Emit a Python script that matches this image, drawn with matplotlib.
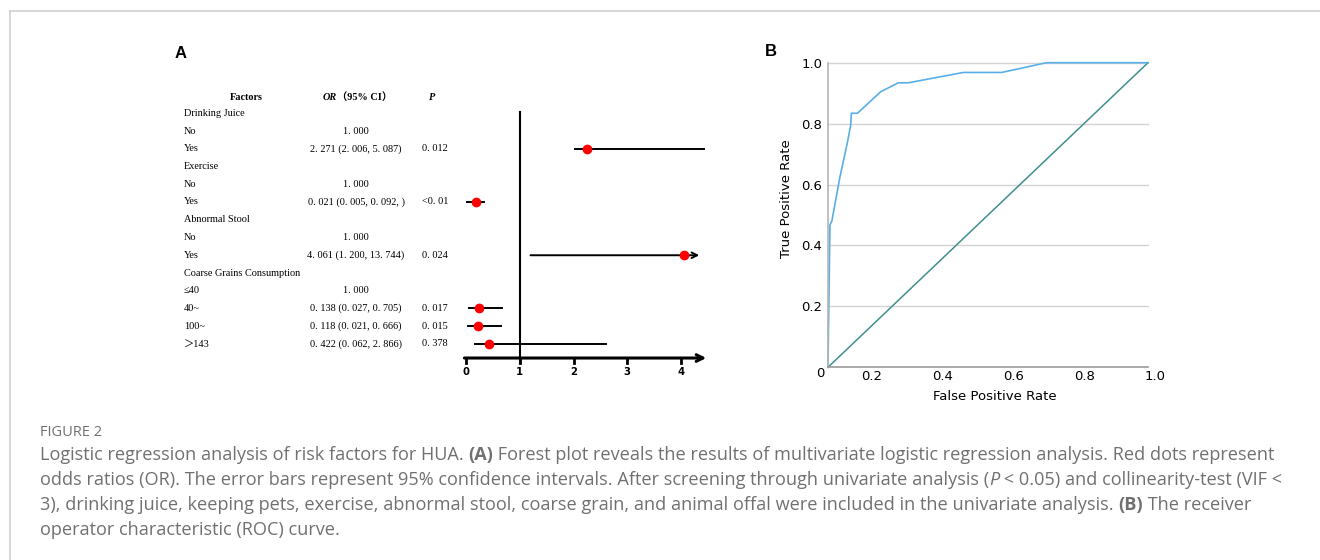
import matplotlib

matplotlib.use("Agg")
import matplotlib.pyplot as plt
import matplotlib.transforms as mtransforms
from matplotlib.lines import Line2D

# ---- panel A: table + forest plot ----
row_labels = [
    "Drinking Juice", "No", "Yes",
    "Exercise", "No", "Yes",
    "Abnormal Stool", "No", "Yes",
    "Coarse Grains Consumption", "≤40", "40~", "100~", "＞143",
]
or_text = [
    "", "1. 000", "2. 271 (2. 006, 5. 087)",
    "", "1. 000", "0. 021 (0. 005, 0. 092, )",
    "", "1. 000", "4. 061 (1. 200, 13. 744)",
    "", "1. 000", "0. 138 (0. 027, 0. 705)", "0. 118 (0. 021, 0. 666)",
    "0. 422 (0. 062, 2. 866)",
]
p_text = [
    "", "", "0. 012",
    "", "", "<0. 01",
    "", "", "0. 024",
    "", "", "0. 017", "0. 015", "0. 378",
]

# values as drawn in the forest plot
plot_rows = [3, 6, 9, 12, 13, 14]
plot_or = [2.26, 0.18, 4.05, 0.24, 0.22, 0.43]
plot_lo = [2.03, 0.01, 1.20, 0.06, 0.04, 0.17]
plot_hi = [4.43, 0.34, 4.34, 0.67, 0.65, 2.60]
plot_arrow = [False, False, True, False, False, False]
forest_ticks = [0, 1, 2, 3, 4]

# ---- panel B: ROC curve ----
roc_fpr = [0.0, 0.006, 0.012, 0.0375, 0.06, 0.071, 0.073, 0.092, 0.131,
           0.165, 0.22, 0.251, 0.423, 0.543, 0.683, 1.0]
roc_tpr = [0.0, 0.467, 0.48, 0.626, 0.735, 0.795, 0.834, 0.834, 0.872,
           0.905, 0.934, 0.934, 0.968, 0.968, 1.0, 1.0]
ref_line = [0.0, 1.0]
roc_yticks = [0.2, 0.4, 0.6, 0.8, 1.0]
roc_xtick_labels = ["0.2", "0.4", "0.6", "0.8", "1.0"]
roc_xtick_pos = [0.1375, 0.3594, 0.5813, 0.8031, 1.0219]

caption_lines = [
    [("Logistic regression analysis of risk factors for HUA. ", "normal"),
     ("(A)", "bold"),
     (" Forest plot reveals the results of multivariate logistic regression analysis. Red dots represent", "normal")],
    [("odds ratios (OR). The error bars represent 95% confidence intervals. After screening through univariate analysis (", "normal"),
     ("P", "italic"),
     (" < 0.05) and collinearity-test (VIF <", "normal")],
    [("3), drinking juice, keeping pets, exercise, abnormal stool, coarse grain, and animal offal were included in the univariate analysis. ", "normal"),
     ("(B)", "bold"),
     (" The receiver", "normal")],
    [("operator characteristic (ROC) curve.", "normal")],
]

W, H = 1320, 560
SERIF = ["Liberation Serif", "Noto Sans CJK SC", "DejaVu Serif"]
CAP_COLOR = "#707070"


def px(x, y):
    """Pixel position (from top-left) to figure fraction."""
    return x / W, 1 - y / H


def text_width(fig, s, **kw):
    renderer = fig.canvas.get_renderer()
    t1 = fig.text(0, 0, s + "|", **kw)
    t2 = fig.text(0, 0, "|", **kw)
    w = t1.get_window_extent(renderer).width - t2.get_window_extent(renderer).width
    t1.remove()
    t2.remove()
    return w


def draw_segments(fig, x, y, segments, **kw):
    for s, style in segments:
        extra = {}
        if style == "bold":
            extra["fontweight"] = "bold"
        elif style == "italic":
            extra["fontstyle"] = "italic"
        fx, fy = px(x, y)
        fig.text(fx, fy, s, ha="left", va="center", **kw, **extra)
        x += text_width(fig, s, **kw, **extra)


def main() -> None:
    fig = plt.figure(figsize=(W / 100, H / 100), dpi=100)

    # frame lines
    fig.add_artist(Line2D([10 / W, 1], [1 - 11 / H] * 2, color="#cfcfcf", lw=1.2,
                          transform=fig.transFigure))
    fig.add_artist(Line2D([10 / W] * 2, [0, 1 - 11 / H], color="#cfcfcf", lw=1.2,
                          transform=fig.transFigure))

    # ---------------- panel A ----------------
    unit = 53.75
    x0_px = 466
    xlim = (-0.2, 4.6)
    row_px = 17.75
    row0_px = 95.5
    ylim = (16.03, -2.0)
    left = x0_px + xlim[0] * unit
    right = x0_px + xlim[1] * unit
    top = row0_px + ylim[1] * row_px
    bottom = row0_px + ylim[0] * row_px
    ax = fig.add_axes([left / W, 1 - bottom / H, (right - left) / W, (bottom - top) / H])
    ax.set_xlim(*xlim)
    ax.set_ylim(*ylim)
    ax.axis("off")

    axis_row = 14.79
    ax.annotate("", xy=(4.47, axis_row), xytext=(-0.03, axis_row),
                arrowprops=dict(arrowstyle="->", lw=2.2, color="black",
                                shrinkA=0, shrinkB=0, mutation_scale=12))
    for t in forest_ticks:
        ax.plot([t, t], [axis_row, axis_row + 0.3], color="black", lw=2)
        ax.text(t, axis_row + 0.78, str(t), ha="center", va="center",
                fontsize=7.3, fontweight="bold", family="DejaVu Sans")
    ax.plot([1, 1], [0.95, 15.07], color="black", lw=1.5)

    for r, o, lo, hi, arr in zip(plot_rows, plot_or, plot_lo, plot_hi, plot_arrow):
        if arr:
            ax.annotate("", xy=(hi, r), xytext=(lo, r),
                        arrowprops=dict(arrowstyle="->", lw=1.4, color="black",
                                        shrinkA=0, shrinkB=0, mutation_scale=10))
        else:
            ax.plot([lo, hi], [r, r], color="black", lw=1.4, clip_on=False)
        ax.plot(o, r, "o", color="#ff0000", markersize=6, zorder=5, clip_on=False)

    blend = mtransforms.blended_transform_factory(fig.transFigure, ax.transData)
    fs = 7.4
    ax.text(246 / W, 0.1, "Factors", transform=blend, ha="center", va="center",
            fontsize=fs, fontweight="bold", family=SERIF)
    ax.text(337 / W, 0.1, "OR", transform=blend, ha="right", va="center",
            fontsize=fs, fontweight="bold", fontstyle="italic", family=SERIF)
    ax.text(337 / W, 0.1, "（95% CI）", transform=blend, ha="left", va="center",
            fontsize=fs, fontweight="bold", family=SERIF)
    ax.text(432 / W, 0.1, "P", transform=blend, ha="center", va="center",
            fontsize=fs, fontweight="bold", fontstyle="italic", family=SERIF)
    for i, (lab, ot, pt) in enumerate(zip(row_labels, or_text, p_text)):
        r = i + 1
        ax.text(184 / W, r, lab, transform=blend, ha="left", va="center",
                fontsize=fs, family=SERIF)
        if ot:
            ax.text(356 / W, r, ot, transform=blend, ha="center", va="center",
                    fontsize=fs, family=SERIF)
        if pt:
            ax.text(422 / W, r, pt, transform=blend, ha="left", va="center",
                    fontsize=fs, family=SERIF)

    fx, fy = px(181, 54)
    fig.text(fx, fy, "A", ha="center", va="center", fontsize=12,
             fontweight="bold", family="Liberation Sans")
    fx, fy = px(771, 52)
    fig.text(fx, fy, "B", ha="center", va="center", fontsize=12,
             fontweight="bold", family="Liberation Sans")

    # ---------------- panel B ----------------
    bx = fig.add_axes([828 / W, 1 - 367.3 / H, 320 / W, 304.6 / H])
    bx.set_xlim(0, 1)
    bx.set_ylim(0, 1)
    for yv in roc_yticks:
        bx.axhline(yv, color="#d3d3d3", lw=1, zorder=0, clip_on=False)
    bx.plot(ref_line, ref_line, color="#3f8f8c", lw=1.1, clip_on=False)
    bx.plot(roc_fpr, roc_tpr, color="#5aaee8", lw=1.2, clip_on=False)
    bx.set_yticks(roc_yticks)
    bx.set_yticklabels([f"{v:.1f}" for v in roc_yticks], fontsize=9.5,
                       family="DejaVu Sans")
    bx.tick_params(axis="y", length=0, pad=4)
    bx.set_xticks([])
    for s in ["top", "right"]:
        bx.spines[s].set_visible(False)
    for s in ["left", "bottom"]:
        bx.spines[s].set_color("#9a9a9a")
        bx.spines[s].set_linewidth(1.2)
    bx.spines["left"].set_color("#b5b5b5")
    xblend = mtransforms.blended_transform_factory(bx.transData, fig.transFigure)
    for pos, lab in zip(roc_xtick_pos, roc_xtick_labels):
        bx.text(pos, 1 - 376 / H, lab, transform=xblend, ha="center",
                va="center", fontsize=9.5, family="DejaVu Sans", clip_on=False)
    fx, fy = px(820.7, 373.3)
    fig.text(fx, fy, "0", ha="center", va="center", fontsize=9.5, family="DejaVu Sans")
    fx, fy = px(995, 396.7)
    fig.text(fx, fy, "False Positive Rate", ha="center", va="center",
             fontsize=9.5, family="DejaVu Sans")
    fx, fy = px(786, 199)
    fig.text(fx, fy, "True Positive Rate", ha="center", va="center",
             rotation=90, fontsize=9.5, family="DejaVu Sans")

    # ---------------- caption ----------------
    fx, fy = px(40, 433)
    fig.text(fx, fy, "FIGURE 2", ha="left", va="center", fontsize=10.5,
             color=CAP_COLOR, family="Open Sans")
    cap_kw = dict(fontsize=13.1, color=CAP_COLOR, family="Open Sans")
    for i, segs in enumerate(caption_lines):
        draw_segments(fig, 40, 455 + 25 * i, segs, **cap_kw)

    fig.savefig("out.png", dpi=100)


if __name__ == "__main__":
    main()
